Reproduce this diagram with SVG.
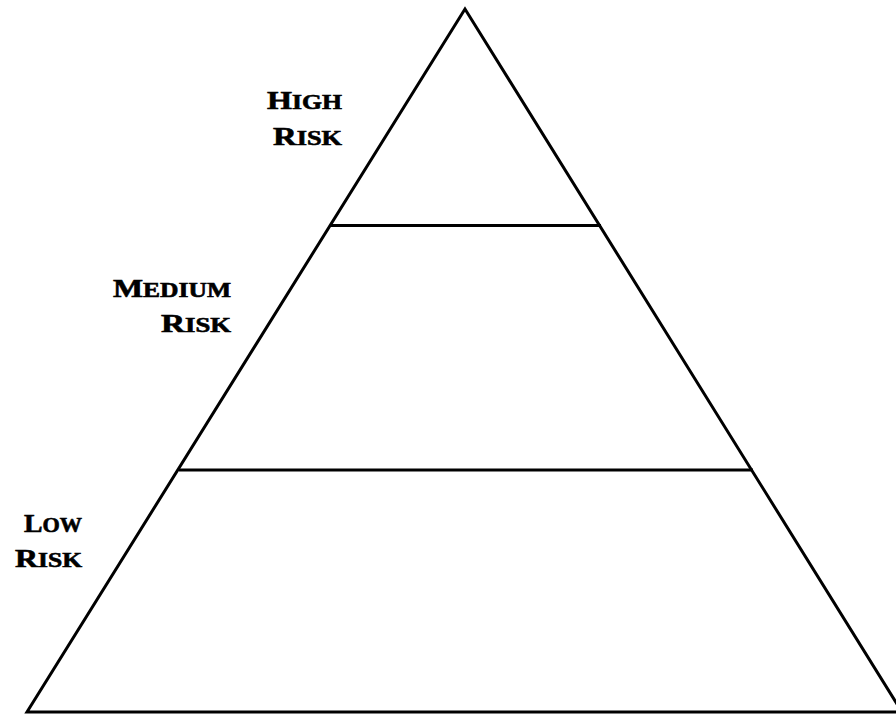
<svg xmlns="http://www.w3.org/2000/svg" width="896" height="714" viewBox="0 0 896 714">
<style>
.ln{stroke:#000;stroke-width:3;fill:none}
.lbl{font-family:"Liberation Serif","Times New Roman",serif;font-weight:bold;font-size:25px;fill:#000;stroke:#000;stroke-width:0.6;text-anchor:end}
.sc{font-size:20px}
</style>
<rect width="896" height="714" fill="#fff"/>
<g id="pyramid">
<polygon class="ln" points="465,9 27,712 902,712" stroke-linejoin="miter"/>
</g>
<g id="connectors">
<line class="ln" x1="331" y1="225.5" x2="601" y2="225.5"/>
<line class="ln" x1="179" y1="470" x2="753" y2="470"/>
</g>
<g id="high-risk">
<text class="lbl" x="342" y="109" textLength="75" lengthAdjust="spacingAndGlyphs">H<tspan class="sc">IGH</tspan></text>
<text class="lbl" x="342" y="145" textLength="69" lengthAdjust="spacingAndGlyphs">R<tspan class="sc">ISK</tspan></text>
</g>
<g id="medium-risk">
<text class="lbl" x="231" y="297" textLength="118" lengthAdjust="spacingAndGlyphs">M<tspan class="sc">EDIUM</tspan></text>
<text class="lbl" x="231" y="332" textLength="70" lengthAdjust="spacingAndGlyphs">R<tspan class="sc">ISK</tspan></text>
</g>
<g id="low-risk">
<text class="lbl" x="82" y="532" textLength="58" lengthAdjust="spacingAndGlyphs">L<tspan class="sc">OW</tspan></text>
<text class="lbl" x="82" y="567" textLength="67" lengthAdjust="spacingAndGlyphs">R<tspan class="sc">ISK</tspan></text>
</g>
</svg>
